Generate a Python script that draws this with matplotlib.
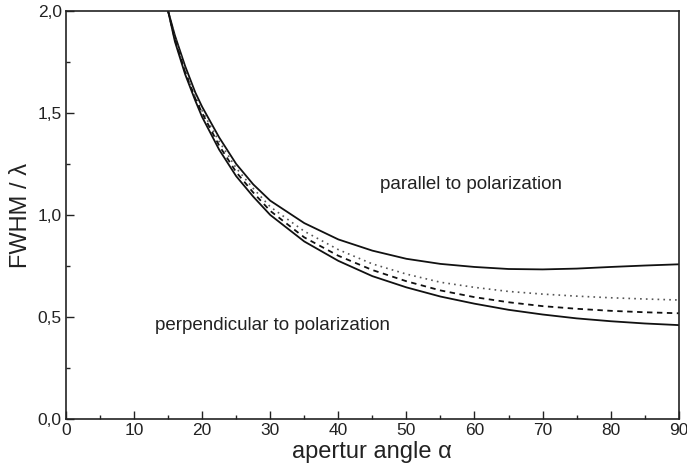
import matplotlib
matplotlib.use("Agg")
import matplotlib.pyplot as plt
from matplotlib.ticker import MultipleLocator, FuncFormatter

plt.rcParams['font.family'] = ['Liberation Sans', 'DejaVu Sans']

# aperture angle (deg) and FWHM in units of lambda
alpha = [15, 16, 17.5, 19, 20, 22.5, 25, 27.5, 30, 35, 40, 45, 50, 55, 60, 65, 70, 75, 80, 85, 90]
fwhm_parallel = [2.00, 1.88, 1.73, 1.60, 1.53, 1.38, 1.25, 1.15, 1.07, 0.96, 0.88, 0.825, 0.785,
                 0.76, 0.745, 0.735, 0.733, 0.737, 0.745, 0.752, 0.758]
fwhm_dotted = [2.00, 1.87, 1.71, 1.58, 1.51, 1.36, 1.23, 1.13, 1.04, 0.92, 0.83, 0.76, 0.71,
               0.67, 0.645, 0.625, 0.612, 0.602, 0.594, 0.588, 0.583]
fwhm_dashed = [2.00, 1.86, 1.70, 1.57, 1.50, 1.34, 1.21, 1.11, 1.02, 0.89, 0.80, 0.73, 0.675,
               0.63, 0.597, 0.572, 0.553, 0.54, 0.53, 0.523, 0.518]
fwhm_perpendicular = [2.00, 1.85, 1.69, 1.56, 1.48, 1.32, 1.19, 1.09, 1.00, 0.87, 0.775, 0.70, 0.645,
                      0.60, 0.565, 0.535, 0.512, 0.493, 0.479, 0.468, 0.46]

fig = plt.figure(figsize=(6.87, 4.75), dpi=100)
ax = fig.add_axes([0.096, 0.118, 0.892, 0.859])

ax.plot(alpha, fwhm_parallel, color='#111111', lw=1.3, ls='-')
ax.plot(alpha, fwhm_dotted, color='#555555', lw=1.2, ls=(0, (1, 2.5)))
ax.plot(alpha, fwhm_dashed, color='#111111', lw=1.3, ls=(0, (3, 2.5)))
ax.plot(alpha, fwhm_perpendicular, color='#111111', lw=1.3, ls='-')

ax.set_xlim(0, 90)
ax.set_ylim(0, 2.0)
ax.xaxis.set_major_locator(MultipleLocator(10))
ax.xaxis.set_minor_locator(MultipleLocator(5))
ax.yaxis.set_major_locator(MultipleLocator(0.5))
ax.yaxis.set_minor_locator(MultipleLocator(0.25))
ax.yaxis.set_major_formatter(FuncFormatter(lambda v, p: f"{v:.1f}".replace('.', ',')))
ax.tick_params(which='both', direction='in', labelsize=12.5, colors='#222222', pad=3)
ax.tick_params(which='major', length=6, width=1.0)
ax.tick_params(which='minor', length=3, width=1.0)
for s in ax.spines.values():
    s.set_linewidth(1.2)
    s.set_color('#222222')

ax.text(46.1, 1.15, 'parallel to polarization', fontsize=13.5, color='#222222', va='center')
ax.text(13.1, 0.46, 'perpendicular to polarization', fontsize=13.5, color='#222222', va='center')

ax.set_xlabel('apertur angle α', fontsize=17, color='#222222', labelpad=2)
ax.set_ylabel('FWHM / λ', fontsize=17, color='#222222', labelpad=4)

fig.savefig('out.png', dpi=100)
